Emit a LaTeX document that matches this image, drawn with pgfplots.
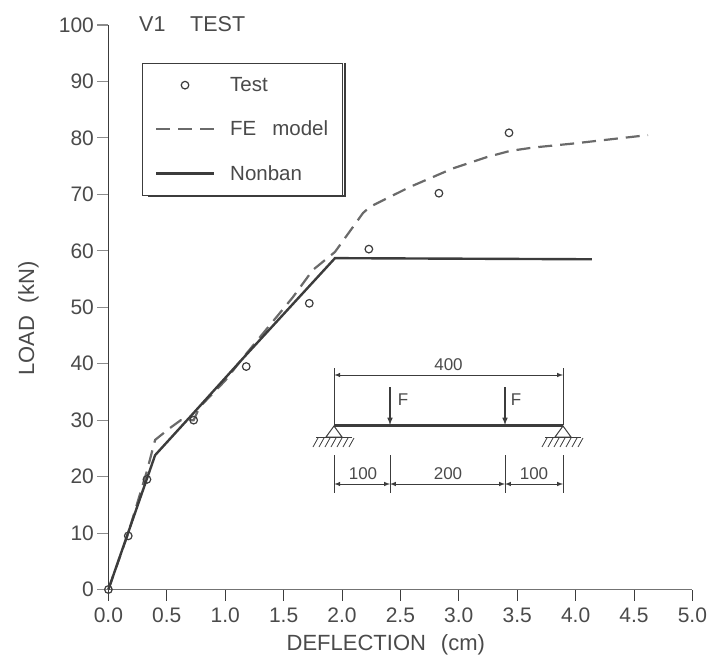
\documentclass[border=0pt]{standalone}
\usepackage{pgfplots}
\pgfplotsset{compat=1.18}
\usepackage{fontspec}
\setmainfont{Liberation Sans}
\definecolor{ink}{HTML}{3C3C3C}
\definecolor{txt}{HTML}{4A4A4A}
\definecolor{femcol}{HTML}{6A6A6A}
\begin{document}
\begin{tikzpicture}[x=1pt,y=1pt]
\path[use as bounding box] (-108.4pt,-72.5pt) rectangle (602.6pt,589.5pt);
\begin{axis}[
  at={(0pt,0pt)}, anchor=origin,
  scale only axis, width=584pt, height=564.5pt,
  xmin=0, xmax=5, ymin=0, ymax=100,
  axis lines=left,
  axis line style={-},
  x axis line style={color=black!55, line width=1.4pt},
  y axis line style={color=ink, line width=1.3pt},
  xtick={0,0.5,...,5}, ytick={0,10,...,100},
  tick align=outside, major tick length=11pt,
  x tick style={color=ink, line width=0.9pt},
  y tick style={color=black!45, line width=1.1pt},
  /pgf/number format/assume math mode=true,
  xticklabel style={/pgf/number format/fixed, /pgf/number format/fixed zerofill, /pgf/number format/precision=1, yshift=-4pt},
  yticklabel style={/pgf/number format/fixed},
  tick label style={font=\fontsize{21}{25}\selectfont, text=txt},
  xlabel={DEFLECTION\hspace{0.4em} (cm)},
  ylabel={LOAD\hspace{0.3em} (kN)},
  label style={font=\fontsize{22}{26}\selectfont, text=txt},
  xlabel style={at={(axis description cs:0.475,0)}, anchor=center, yshift=-55.5pt},
  ylabel style={at={(axis description cs:0,0.48)}, anchor=center, yshift=80pt},
  clip=false,
  legend style={at={(axis cs:0.29,93.3)}, anchor=north west, draw=ink, line width=1.1pt,
     font=\fontsize{20.5}{24}\selectfont, text=txt, inner xsep=12pt, inner ysep=12pt,
     row sep=24pt, fill=white},
  legend cell align=left,
  legend image code/.code={\path (74pt,0pt); \draw[mark repeat=2, mark phase=2, #1] plot coordinates {(3pt,0pt)(32pt,0pt)(61pt,0pt)};},
]
\addplot[only marks, mark=o, mark size=3.8pt, mark options={draw=ink, line width=1.2pt}] coordinates {
 (0,0) (0.17,9.5) (0.33,19.5) (0.73,30.0) (1.18,39.5) (1.72,50.7) (2.23,60.3) (2.83,70.2) (3.43,80.9)};
\addlegendentry{Test}
\addplot[femcol, line width=2.2pt, dash pattern=on 14pt off 8pt] coordinates {
 (0,0) (0.17,10) (0.33,21) (0.40,26.5) (0.52,28.5) (0.62,30) (0.73,30) (0.78,32.3) (1.0,37) (1.15,41)
 (1.58,51.8) (1.75,56.6) (1.94,59.8) (2.18,66.7) (2.24,67.8) (2.58,71.3) (2.95,74.6) (3.24,76.6)
 (3.44,77.7) (3.64,78.3) (3.98,79.0) (4.32,79.8) (4.62,80.5)};
\addlegendentry{FE\hspace{0.5em} model}
\addplot[ink, line width=2.4pt] coordinates {
 (0,0) (0.40,23.8) (0.70,30.6) (1.15,40.9) (1.94,58.7) (4.14,58.5)};
\addlegendentry{Nonban}
\end{axis}
\begin{scope}[shift={(-108.4pt,589.5pt)}, x=1pt, y=-1pt]
 \node[text=txt, font=\fontsize{21.5}{25}\selectfont, anchor=west, inner sep=0pt] at (139,24) {V1\hspace{1.15em}TEST};
 % legend shadow
 \draw[ink, line width=2.4pt] (345,63) -- (345,196) -- (148,196);
 % beam diagram
 \begin{scope}[color=ink]
 \draw[line width=2.4pt] (334,425.5) -- (563,425.5);
 \draw[line width=1pt] (334.3,368) -- (334.3,425) (563,368) -- (563,425);
 \draw[line width=1pt, <->, >=latex] (334.3,375) -- (563,375);
 \draw[line width=1pt] (334.3,455) -- (334.3,493) (563,455) -- (563,493) (390,455) -- (390,493) (505,455) -- (505,493);
 \draw[line width=1pt, <->, >=latex] (334.3,484) -- (390,484);
 \draw[line width=1pt, <->, >=latex] (390,484) -- (505,484);
 \draw[line width=1pt, <->, >=latex] (505,484) -- (563,484);
 \draw[line width=1.5pt, ->, >=latex] (390,387) -- (390,425);
 \draw[line width=1.5pt, ->, >=latex] (505,387) -- (505,425);
 \foreach \sx in {334,563} {
   \draw[line width=1pt] (\sx,426) -- (\sx-8,437) -- (\sx+8,437) -- cycle;
   \draw[line width=1pt] (\sx-18,437) -- (\sx+18,437);
   \foreach \h in {-16,-10,...,20} { \draw[line width=0.8pt] (\sx+\h,438) -- (\sx+\h-5,447); }
 }
 \end{scope}
 \begin{scope}[font=\fontsize{17}{20}\selectfont, text=txt]
 \node at (448.5,365) {400};
 \node at (363,474) {100};
 \node at (448,474) {200};
 \node at (534,474) {100};
 \node at (403,400) {F};
 \node at (516,400) {F};
 \end{scope}
\end{scope}
\end{tikzpicture}
\end{document}
